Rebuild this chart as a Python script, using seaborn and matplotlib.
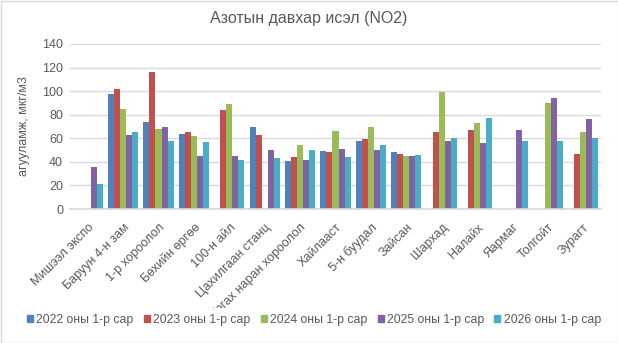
import numpy as np
import pandas as pd
import matplotlib
matplotlib.use("Agg")
import matplotlib.pyplot as plt
import seaborn as sns
from matplotlib.patches import Rectangle
from matplotlib.transforms import Bbox, TransformedBbox

stations = ["Мишээл экспо", "Баруун 4-н зам", "1-р хороолол", "Бөхийн өргөө",
            "100-н айл", "Цахилгаан станц", "Ургах наран хороолол", "Хайлааст",
            "5-н буудал", "Зайсан", "Шархад", "Налайх", "Яармаг", "Толгойт", "Зурагт"]

series = ["2022 оны 1-р сар", "2023 оны 1-р сар", "2024 оны 1-р сар",
          "2025 оны 1-р сар", "2026 оны 1-р сар"]

nan = np.nan
v2022 = [nan, 98, 74, 64, nan, 70, 41, 49, 58, 48, nan, nan, nan, nan, nan]
v2023 = [nan, 102, 116, 65, 84, 63, 44, 48, 59, 47, 65, 67, nan, nan, 47]
v2024 = [nan, 85, 68, 62, 89, nan, 54, 66, 70, 45, 99, 73, nan, 90, 65]
v2025 = [36, 63, 70, 45, 45, 50, 42, 51, 50, 45, 58, 56, 67, 94, 76]
v2026 = [21, 65, 58, 57, 42, 43, 50, 44, 54, 46, 60, 77, 58, 58, 60]

colors = ["#4F81BD", "#C0504D", "#9BBB59", "#8064A2", "#4BACC6"]

rows = []
for name, vals in zip(series, [v2022, v2023, v2024, v2025, v2026]):
    for st, v in zip(stations, vals):
        rows.append({"station": st, "period": name, "value": v})
df = pd.DataFrame(rows)

sns.set_theme(style="white")
plt.rcParams["font.family"] = ["Liberation Sans", "DejaVu Sans"]
text_col = "#595959"

fig = plt.figure(figsize=(6.18, 3.43), dpi=100)
ax = fig.add_axes([70 / 618, 1 - 209 / 343, 531 / 618, 165 / 343])

sns.barplot(data=df, x="station", y="value", hue="period", order=stations,
            hue_order=series, palette=colors, width=0.85, saturation=1,
            errorbar=None, ax=ax, linewidth=0)

ax.set_ylim(0, 140)
ax.set_yticks(range(0, 141, 20))
ax.yaxis.grid(True, color="#D9D9D9", linewidth=1)
ax.set_axisbelow(True)
for s in ["top", "right", "left"]:
    ax.spines[s].set_visible(False)
ax.spines["bottom"].set_color("#D9D9D9")
ax.tick_params(axis="both", length=0, colors=text_col, labelsize=9)
ax.tick_params(axis="y", pad=5)
ax.tick_params(axis="x", pad=9)
ax.set_xlabel("")
ax.set_ylabel("агууламж, мкг/м3", color=text_col, fontsize=9, labelpad=9)

# category labels are cut off above the legend band
label_clip = TransformedBbox(Bbox.from_extents(0, 1 - 308 / 343, 1, 1), fig.transFigure)
for lbl in ax.get_xticklabels():
    lbl.set_rotation(45)
    lbl.set_ha("right")
    lbl.set_rotation_mode("anchor")
    lbl.set_clip_box(label_clip)
    lbl.set_clip_on(True)

ax.legend_.remove()
handles = [Rectangle((0, 0), 1, 1, color=c) for c in colors]
fig.legend(handles, series, loc="center", bbox_to_anchor=(0.508, 1 - 320 / 343),
           ncol=5, frameon=False, fontsize=8.8, handlelength=0.5,
           handleheight=0.5, handletextpad=0.25, columnspacing=0.85,
           labelcolor=text_col)

fig.text(0.5, 1 - 18 / 343, "Азотын давхар исэл (NO2)", ha="center",
         va="center", fontsize=11.5, color=text_col)

fig.patches.append(Rectangle((0.5 / 618, 0.5 / 343), 1 - 1 / 618, 1 - 1 / 343,
                             transform=fig.transFigure, fill=False,
                             edgecolor="#D9D9D9", linewidth=1))

fig.savefig("out.png", dpi=100)
